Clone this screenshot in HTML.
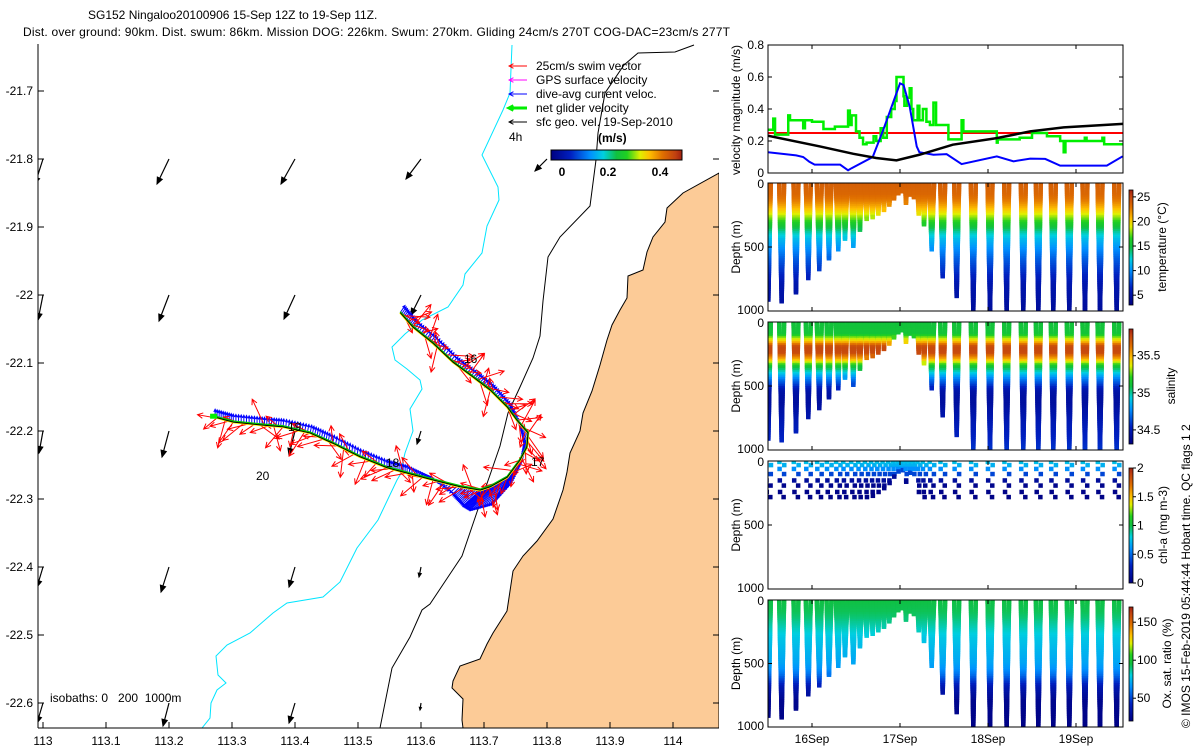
<!DOCTYPE html>
<html><head><meta charset="utf-8"><style>
html,body{margin:0;padding:0;background:#fff;}
svg{display:block;font-family:"Liberation Sans",sans-serif;}
</style></head><body>
<svg id="fig" width="1200" height="750" viewBox="0 0 1200 750" xmlns="http://www.w3.org/2000/svg">
<defs>
<clipPath id="mapclip"><rect x="38" y="44" width="681" height="684"/></clipPath>
<clipPath id="c-vel"><rect x="768" y="45" width="355" height="128"/></clipPath>
<clipPath id="c-temp"><rect x="768" y="183" width="355" height="128"/></clipPath>
<clipPath id="c-sal"><rect x="768" y="322" width="355" height="128"/></clipPath>
<clipPath id="c-chl"><rect x="768" y="461" width="355" height="128"/></clipPath>
<clipPath id="c-oxy"><rect x="768" y="600" width="355" height="127"/></clipPath>
<linearGradient id="jetH" x1="0" x2="1" y1="0" y2="0">
<stop offset="0" stop-color="#000080"/><stop offset="0.15" stop-color="#0020c0"/><stop offset="0.3" stop-color="#0090ff"/><stop offset="0.4" stop-color="#00d0e0"/><stop offset="0.5" stop-color="#10c040"/><stop offset="0.58" stop-color="#20d020"/><stop offset="0.68" stop-color="#e0f000"/><stop offset="0.75" stop-color="#ffc000"/><stop offset="0.85" stop-color="#e07000"/><stop offset="0.95" stop-color="#c04010"/><stop offset="1" stop-color="#a02010"/>
</linearGradient>
<linearGradient id="jetV" x1="0" x2="0" y1="1" y2="0">
<stop offset="0" stop-color="#000080"/><stop offset="0.15" stop-color="#0020c0"/><stop offset="0.3" stop-color="#0090ff"/><stop offset="0.4" stop-color="#00d0e0"/><stop offset="0.5" stop-color="#10c040"/><stop offset="0.58" stop-color="#20d020"/><stop offset="0.68" stop-color="#e0f000"/><stop offset="0.75" stop-color="#ffc000"/><stop offset="0.85" stop-color="#e07000"/><stop offset="0.95" stop-color="#c04010"/><stop offset="1" stop-color="#a02010"/>
</linearGradient>
</defs>

<text x="88" y="19" font-size="12">SG152 Ningaloo20100906 15-Sep 12Z to 19-Sep 11Z.</text>
<text x="23" y="36" font-size="12" textLength="707">Dist. over ground: 90km. Dist. swum: 86km. Mission DOG: 226km. Swum: 270km. Gliding 24cm/s 270T COG-DAC=23cm/s 277T</text>

<g id="map">
<g clip-path="url(#mapclip)">
<polygon fill="#fccb97" stroke="#000" stroke-width="1" points="719,173 683,193 667,208 665,222 653,237 647,252 643,270 628,276 627,298 620,310 612,325 607,340 600,365 592,391 583,413 580,431 570,453 567,472 563,490 553,519 537,541 523,556 513,571 507,611 493,633 487,644 480,659 460,666 453,681 452,688 463,699 462,720 463,728 719,728"/>
<polyline fill="none" stroke="#000" stroke-width="1" points="694,45 675,52 638,53 624,65 605,93 598,133 596,160 590,206 560,237 548,257 547,266 543,301 540,336 533,358 520,387 508,413 500,446 490,475 477,512 462,556 450,574 430,604 422,610 410,637 392,668 380,728"/>
<polyline fill="none" stroke="#00e5ff" stroke-width="1" points="512,45 510,93 503,110 482,155 498,187 499,200 487,226 482,253 465,274 463,285 448,307 422,320 405,334 392,347 395,360 407,369 420,380 422,389 410,409 413,431 405,453 400,475 397,480 378,520 357,548 340,582 323,597 287,603 273,613 250,633 227,645 216,656 218,675 226,683 217,690 211,703 210,718 202,728"/>
<g id="geo-arrows"></g>
<g id="track-layer"></g>
</g>
<line x1="38" y1="44" x2="38" y2="728" stroke="#000"/>
<line x1="38" y1="728" x2="719" y2="728" stroke="#000"/>
<g id="map-ticks" font-size="12"></g>
<text x="464" y="363" font-size="12">16</text>
<text x="531" y="466" font-size="12">17</text>
<text x="386" y="467" font-size="12">18</text>
<text x="288" y="431" font-size="12">19</text>
<text x="256" y="480" font-size="12">20</text>
<text x="50" y="702" font-size="12" xml:space="preserve">isobaths: 0   200  1000m</text>
<g id="legend" font-size="12"></g>
</g>

<g id="right-panels"></g>
<text transform="translate(1190,728) rotate(-90)" font-size="12">© IMOS 15-Feb-2019 05:44:44 Hobart time. QC flags 1 2</text>
</svg>

<script>
// ---------------- DATA ----------------
const blueDays = [15.50,15.82,15.90,15.97,16.03,16.32,16.41,16.45,16.69,16.81,17.00,17.04,17.11,17.19,17.22,17.38,17.53,17.70,18.10,18.29,18.48,18.65,18.82,19.35,19.53];
const blueVals = [0.13,0.11,0.10,0.07,0.052,0.052,0.017,0.03,0.10,0.27,0.56,0.55,0.415,0.166,0.13,0.114,0.118,0.056,0.104,0.073,0.09,0.088,0.046,0.046,0.104];
const geoDays = [15.50,16.09,16.47,16.73,16.96,17.22,17.60,18.10,18.48,18.86,19.53];
const geoVals = [0.233,0.166,0.12,0.094,0.079,0.114,0.177,0.218,0.26,0.285,0.307];
const greenDays = [15.50,15.56,15.58,15.73,15.75,15.90,15.92,16.00,16.13,16.26,16.41,16.43,16.45,16.50,16.54,16.58,16.62,16.70,16.73,16.78,16.81,16.85,16.90,16.94,16.96,17.04,17.05,17.08,17.11,17.13,17.15,17.20,17.22,17.26,17.30,17.34,17.38,17.41,17.55,17.70,17.72,18.10,18.11,18.36,18.50,18.67,18.82,18.86,18.88,19.10,19.12,19.30,19.32,19.53];
const greenVals = [0.27,0.34,0.24,0.36,0.33,0.28,0.33,0.32,0.275,0.29,0.39,0.30,0.36,0.26,0.22,0.18,0.19,0.23,0.20,0.28,0.22,0.35,0.40,0.45,0.60,0.48,0.42,0.47,0.53,0.40,0.33,0.42,0.33,0.40,0.32,0.30,0.44,0.30,0.21,0.33,0.26,0.19,0.21,0.22,0.25,0.23,0.20,0.13,0.20,0.22,0.20,0.22,0.18,0.18];
const swimSpeed = 0.25;
const velTicks = [0,0.2,0.4,0.6,0.8];
const velTickLabels = ["0","0.2","0.4","0.6","0.8"];

const diveDays = [15.504,15.655,15.818,15.958,16.083,16.193,16.299,16.375,16.470,16.545,16.621,16.689,16.754,16.818,16.879,16.932,16.981,17.030,17.068,17.114,17.159,17.212,17.273,17.360,17.485,17.644,17.833,18.023,18.212,18.401,18.572,18.742,18.924,19.102,19.273,19.462];
const diveDepths = [915,925,860,745,675,600,520,445,495,365,290,270,240,210,170,120,80,70,160,90,110,240,330,520,740,890,1000,1000,1000,1000,1000,1000,1000,1000,1000,1000];
const profDepths = [0,100,150,200,250,300,350,400,450,500,550,600,650,700,800,1000];
const tempProf = [23.8,23.3,22.5,21,19,17,15,13,11.5,10.5,9.5,8.5,7.7,7,5.5,4.5];
const salProf  = [35.1,35.12,35.4,35.75,35.75,35.5,35.15,34.95,34.75,34.6,34.45,34.43,34.42,34.45,34.5,34.58];
const oxyProf  = [95,93,90,86,82,78,76,74,72,70,66,58,47,36,25,22];
const chlDepths = [5,30,60,100,150,190,240,280];
const chlVals = [0.75,0.7,0.6,0.4,0.12,0.06,0.04,0.03];
const dateTicks = [16,17,18,19];
const dateLabels = ["16Sep","17Sep","18Sep","19Sep"];

const trackLon = [113.567,113.587,113.619,113.651,113.683,113.710,113.737,113.752,113.770,113.768,113.757,113.737,113.710,113.694,113.662,113.619,113.578,113.546,113.503,113.460,113.424,113.381,113.344,113.302,113.270];
const trackLat = [-22.026,-22.047,-22.071,-22.099,-22.121,-22.140,-22.165,-22.184,-22.203,-22.224,-22.243,-22.268,-22.282,-22.287,-22.282,-22.272,-22.262,-22.254,-22.238,-22.218,-22.203,-22.194,-22.191,-22.187,-22.179];
const dacU = [0.06,0.06,0.06,0.06,0.06,0.06,0.05,0.03,-0.05,-0.08,-0.12,-0.2,-0.25,-0.22,-0.1,-0.05,0.0,0.0,0.01,0.02,0.02,0.01,0.0,0.0,0.0];
const dacV = [0.09,0.08,0.08,0.07,0.07,0.06,0.05,0.0,-0.15,-0.2,-0.3,-0.35,-0.3,-0.2,-0.1,0.05,0.1,0.1,0.1,0.1,0.1,0.1,0.1,0.1,0.1];
const swimAngleOffsets = [-20,-45,15,-70,-30,-90,-5,-55,35,-110,-25,60,-150,-40];
const swimLens = [0.28,0.34,0.2,0.32,0.25,0.36,0.3,0.22];
const geoLon = [113.0,113.2,113.4,113.6,113.8, 113.0,113.2,113.4,113.6, 113.0,113.2,113.4,113.6, 113.0,113.2,113.4,113.6, 113.0,113.2,113.4,113.6];
const geoLat = [-21.8,-21.8,-21.8,-21.8,-21.8, -22.0,-22.0,-22.0,-22.0, -22.2,-22.2,-22.2,-22.2, -22.4,-22.4,-22.4,-22.4, -22.6,-22.6,-22.6,-22.6];
const geoU = [-0.08,-0.12,-0.14,-0.15,-0.12, -0.05,-0.10,-0.11,-0.10, -0.04,-0.07,-0.06,-0.04, -0.06,-0.08,-0.06,-0.02, -0.06,-0.06,-0.06,-0.01];
const geoV = [-0.25,-0.25,-0.25,-0.20,-0.12, -0.25,-0.26,-0.24,-0.20, -0.22,-0.26,-0.24,-0.13, -0.20,-0.25,-0.20,-0.10, -0.20,-0.23,-0.20,-0.07];
const lonTicks = [113,113.1,113.2,113.3,113.4,113.5,113.6,113.7,113.8,113.9,114];
const latTicks = [-21.7,-21.8,-21.9,-22,-22.1,-22.2,-22.3,-22.4,-22.5,-22.6];

// ---------------- HELPERS ----------------
const NS = "http://www.w3.org/2000/svg";
function mk(tag, attrs, parent){ const e=document.createElementNS(NS,tag); for(const k in attrs) e.setAttribute(k,attrs[k]); parent.appendChild(e); return e; }
const stops=[[0,[0,0,128]],[0.15,[0,32,192]],[0.3,[0,144,255]],[0.4,[0,208,224]],[0.5,[16,192,64]],[0.58,[32,208,32]],[0.68,[224,240,0]],[0.75,[255,192,0]],[0.85,[224,112,0]],[0.95,[192,64,16]],[1,[160,32,16]]];
function cmap(t){ t=Math.max(0,Math.min(1,t)); for(let i=1;i<stops.length;i++){ if(t<=stops[i][0]){ const a=stops[i-1],b=stops[i],f=(t-a[0])/(b[0]-a[0]); const c=a[1].map((v,j)=>Math.round(v+(b[1][j]-v)*f)); return "rgb("+c.join(",")+")"; } } return "rgb(160,32,16)"; }
function interp(xs,ys,x){ if(x<=xs[0]) return ys[0]; for(let i=1;i<xs.length;i++){ if(x<=xs[i]){ const f=(x-xs[i-1])/(xs[i]-xs[i-1]); return ys[i-1]+(ys[i]-ys[i-1])*f; } } return ys[ys.length-1]; }

const mx = lon => 43 + (lon-113)*630;
const my = lat => 91 + (-21.7-lat)*680;
const X0=768, X1=1123;
const xd = d => X0 + (d-15.5)*88;

// ---------------- MAP ----------------
const mapTicks = document.getElementById('map-ticks');
lonTicks.forEach((v,i)=>{
  const x=mx(v);
  const t=mk('line',{x1:x,y1:728,x2:x,y2:722,stroke:'#000'},mapTicks);
  
  
  const l=mk('text',{x:x,y:745,'text-anchor':'middle'},mapTicks);
  l.textContent = String(v);
  
  
});
latTicks.forEach(v=>{
  const y=my(v);
  const t=mk('line',{x1:38,y1:y,x2:44,y2:y,stroke:'#000'},mapTicks);
  
  
  const t2=mk('line',{x1:713,y1:y,x2:719,y2:y,stroke:'#000'},mapTicks);
  
  
  const l=mk('text',{x:33,y:y+4,'text-anchor':'end'},mapTicks);
  l.textContent = String(v);
  
  
});

function arrow(g,x,y,dx,dy,color,w,head){
  const len=Math.hypot(dx,dy); if(len<0.5) return null;
  const ang=Math.atan2(dy,dx), h=head||Math.min(6,len*0.35);
  const x2=x+dx,y2=y+dy;
  const a1=ang+Math.PI*0.85, a2=ang-Math.PI*0.85;
  return mk('path',{d:`M${x},${y}L${x2},${y2}M${x2+h*Math.cos(a1)},${y2+h*Math.sin(a1)}L${x2},${y2}L${x2+h*Math.cos(a2)},${y2+h*Math.sin(a2)}`,stroke:color,'stroke-width':w,fill:'none'},g);
}
const geoG=document.getElementById('geo-arrows');
const geoScale=100;
geoLon.forEach((lon,i)=>{
  const x=mx(lon), y=my(geoLat[i]);
  const dx=geoU[i]*geoScale, dy=-geoV[i]*geoScale;
  const p=mk('line',{x1:x,y1:y,x2:x+dx,y2:y+dy,stroke:'#000','stroke-width':1.2},geoG);
  
  
  const ang=Math.atan2(dy,dx), L=Math.hypot(dx,dy), h=Math.min(7,L*0.4);
  const tx=x+dx, ty=y+dy;
  const hd=mk('polygon',{points:`${tx},${ty} ${tx-h*Math.cos(ang-0.4)},${ty-h*Math.sin(ang-0.4)} ${tx-h*Math.cos(ang+0.4)},${ty-h*Math.sin(ang+0.4)}`,fill:'#000',stroke:'#000'},geoG);
  
  
});

const trG=document.getElementById('track-layer');
const blueG=mk('g',{},trG);


const redG=mk('g',{},trG);


let k=0;
const SUB=10, vecScale=80;
for(let i=0;i<trackLon.length-1;i++){
  const x0=mx(trackLon[i]),y0=my(trackLat[i]),x1=mx(trackLon[i+1]),y1=my(trackLat[i+1]);
  const dir=Math.atan2(y1-y0,x1-x0);
  for(let s=0;s<SUB;s++){
    const f=s/SUB, x=x0+(x1-x0)*f, y=y0+(y1-y0)*f;
    const u=dacU[i]+(dacU[i+1]-dacU[i])*f, v=dacV[i]+(dacV[i+1]-dacV[i])*f;
    const b=arrow(blueG,x,y,u*vecScale,-v*vecScale,'#0000ff',1,3);
    if(b){   }
    if(s%2===0){
      const off=swimAngleOffsets[k%swimAngleOffsets.length]*Math.PI/180;
      const L=swimLens[k%swimLens.length]*vecScale;
      const a=dir+off;
      const r=arrow(redG,x,y,L*Math.cos(a),L*Math.sin(a),'#ff0000',1,6);
      if(r){   }
      k++;
    }
  }
}
const trPts=trackLon.map((l,i)=>mx(l)+','+my(trackLat[i])).join(' ');
const yl=mk('polyline',{points:trPts,fill:'none',stroke:'#ffff00','stroke-width':2.5},trG);


const gl=mk('polyline',{points:trPts,fill:'none',stroke:'#00cc00','stroke-width':1.5,transform:'translate(0,-1)'},trG);


const bl=mk('polyline',{points:trPts,fill:'none',stroke:'#000','stroke-width':1},trG);


const endM=mk('rect',{x:mx(trackLon[trackLon.length-1])-3,y:my(trackLat[trackLat.length-1])-3,width:7,height:5,fill:'#00ee00'},trG);



const lg=document.getElementById('legend');
const legItems=[['25cm/s swim vector','#ff0000',1],['GPS surface velocity','#ff00ff',1],['dive-avg current veloc.','#0000ff',1],['net glider velocity','#00ee00',3],['sfc geo. vel. 19-Sep-2010','#000000',1]];
legItems.forEach((it,i)=>{
  const y=66+i*14;
  const a=arrow(lg,527,y,-18,0,it[1],it[2],5);
  
  
  const t=mk('text',{x:536,y:y+4},lg);
  t.textContent=it[0];
  
  
});
const t4=mk('text',{x:509,y:141},lg); t4.textContent='4h';


const tms=mk('text',{x:598,y:142,'font-weight':'bold'},lg); tms.textContent='(m/s)';


const lcb=mk('rect',{x:551,y:150,width:131,height:10,fill:'url(#jetH)',stroke:'#000'},lg);


[['0',562],['0.2',608],['0.4',660]].forEach(p=>{
  const t=mk('text',{x:p[1],y:176,'text-anchor':'middle','font-weight':'bold'},lg); t.textContent=p[0];
  
  
});

// ---------------- RIGHT PANELS ----------------
const RP=document.getElementById('right-panels');
function panelFrame(top,bottom,name,clip){
  const g=mk('g',{'font-size':12},RP);
  
  
  const inner=mk('g',{'clip-path':`url(#${clip})`},g);
  return {g,inner,top,bottom};
}
function frameBox(P){
  const r=mk('rect',{x:X0,y:P.top,width:X1-X0,height:P.bottom-P.top,fill:'none',stroke:'#000'},P.g);
  
  
  dateTicks.forEach(d=>{
    const x=xd(d);
    const t=mk('path',{d:`M${x},${P.bottom}v-4M${x},${P.top}v4`,stroke:'#000'},P.g);
    
    
  });
}
const V=panelFrame(45,173,'velocity-panel','c-vel');
const vy = v => 173 - v*160;
const redLine=mk('line',{x1:X0,x2:X1,y1:vy(swimSpeed),y2:vy(swimSpeed),stroke:'#ff0000','stroke-width':2},V.inner);


let gp=''; greenDays.forEach((d,i)=>{ const x=xd(d), y=vy(greenVals[i]); gp += (i===0?`M${x},${y}`:`H${x}V${y}`); });
const gline=mk('path',{d:gp,fill:'none',stroke:'#00ee00','stroke-width':2.5},V.inner);


const bline=mk('polyline',{points:blueDays.map((d,i)=>xd(d)+','+vy(blueVals[i])).join(' '),fill:'none',stroke:'#0000ff','stroke-width':2},V.inner);


const kline=mk('polyline',{points:geoDays.map((d,i)=>xd(d)+','+vy(geoVals[i])).join(' '),fill:'none',stroke:'#000','stroke-width':2.5},V.inner);


frameBox(V);
velTicks.forEach((v,i)=>{
  const y=vy(v);
  const t=mk('path',{d:`M${X0},${y}h4M${X1},${y}h-4`,stroke:'#000'},V.g);
  
  
  const l=mk('text',{x:764,y:y+4,'text-anchor':'end'},V.g); l.textContent=velTickLabels[i];
  
  
});
const vlab=mk('text',{transform:'translate(740,110) rotate(-90)','text-anchor':'middle','font-size':12},V.g);
vlab.textContent='velocity magnitude (m/s)';



function depthPanel(top,bottom,clip,name,valueAt,vmin,vmax,cbTicks,cbLabels,cbTitle,cbTitleX,sparse){
  const P=panelFrame(top,bottom,name,clip);
  const dy = z => top + z/1000*(bottom-top);
  const cv = v => cmap((v-vmin)/(vmax-vmin));
  const n=diveDays.length;
  for(let i=0;i<n;i++){
    const bt=diveDays[i], D=diveDepths[i];
    const gPrev = i>0 ? bt-diveDays[i-1] : 0.15;
    const gNext = i<n-1 ? diveDays[i+1]-bt : 0.15;
    const ps = bt - Math.min(0.028, gPrev*0.3);
    const ns = bt + Math.min(0.028, gNext*0.3);
    if(sparse){
      chlDepths.forEach((z,j)=>{
        if(z>D+30) return;
        const zz=Math.min(z,D);
        const t=(j%2===0)? ps+(bt-ps)*zz/Math.max(D,1) : ns-(ns-bt)*zz/Math.max(D,1);
        const m=mk('rect',{x:xd(t)-2,y:dy(zz)-2,width:4.5,height:4.5,fill:cv(chlVals[j])},P.inner);
        
        
      });
      continue;
    }
    const step=Math.max(8,Math.min(14,D/10));
    for(let z=0; z<=D; z+=step){
      const c=cv(valueAt(z));
      const t1=ps+(bt-ps)*z/D, t2=ns-(ns-bt)*z/D;
      const m1=mk('rect',{x:xd(t1)-2.2,y:dy(z)-2.2,width:4.4,height:4.4,fill:c},P.inner);
      
      
      const m2=mk('rect',{x:xd(t2)-2.2,y:dy(z)-2.2,width:4.4,height:4.4,fill:c},P.inner);
      
      
    }
  }
  frameBox(P);
  [[0,'0'],[500,'500'],[1000,'1000']].forEach(p=>{
    const y=dy(p[0]);
    const t=mk('path',{d:`M${X0},${y}h4M${X1},${y}h-4`,stroke:'#000'},P.g);
    
    
    const l=mk('text',{x:764,y:y+(p[0]===0?5:p[0]===1000?3:4),'text-anchor':'end'},P.g); l.textContent=p[1];
    
    
  });
  const yt=mk('text',{transform:`translate(740,${(top+bottom)/2}) rotate(-90)`,'text-anchor':'middle'},P.g);
  yt.textContent='Depth (m)';
  
  
  const cbTop=top+7, cbBot=bottom-6;
  const cb=mk('rect',{x:1129,y:cbTop,width:4,height:cbBot-cbTop,fill:'url(#jetV)',stroke:'#000','stroke-width':0.8},P.g);
  
  
  const cy = v => cbBot - (v-vmin)/(vmax-vmin)*(cbBot-cbTop);
  cbTicks.forEach((v,i)=>{
    const y=cy(v);
    const t=mk('line',{x1:1133,x2:1136,y1:y,y2:y,stroke:'#000'},P.g);
    
    
    const l=mk('text',{x:1137,y:y+4},P.g); l.textContent=cbLabels[i];
    
    
  });
  const ct=mk('text',{transform:`translate(${cbTitleX},${(top+bottom)/2}) rotate(-90)`,'text-anchor':'middle'},P.g);
  ct.textContent=cbTitle;
  
  
  return P;
}
depthPanel(183,311,'c-temp','temperature-panel',z=>interp(profDepths,tempProf,z),3.0,26.4,[5,10,15,20,25],['5','10','15','20','25'],'temperature (°C)',1166);
depthPanel(322,450,'c-sal','salinity-panel',z=>interp(profDepths,salProf,z),34.31,35.86,[34.5,35,35.5],['34.5','35','35.5'],'salinity',1175);
depthPanel(461,589,'c-chl','chlorophyll-panel',null,0,2,[0,0.5,1,1.5,2],['0','0.5','1','1.5','2'],'chl-a (mg m-3)',1167,true);
const OX=depthPanel(600,727,'c-oxy','oxygen-panel',z=>interp(profDepths,oxyProf,z),20,170,[50,100,150],['50','100','150'],'Ox. sat. ratio (%)',1171);
dateTicks.forEach((d,i)=>{
  const l=mk('text',{x:xd(d),y:743,'text-anchor':'middle','font-size':12},OX.g); l.textContent=dateLabels[i];
  
  
});
</script>
</body></html>
